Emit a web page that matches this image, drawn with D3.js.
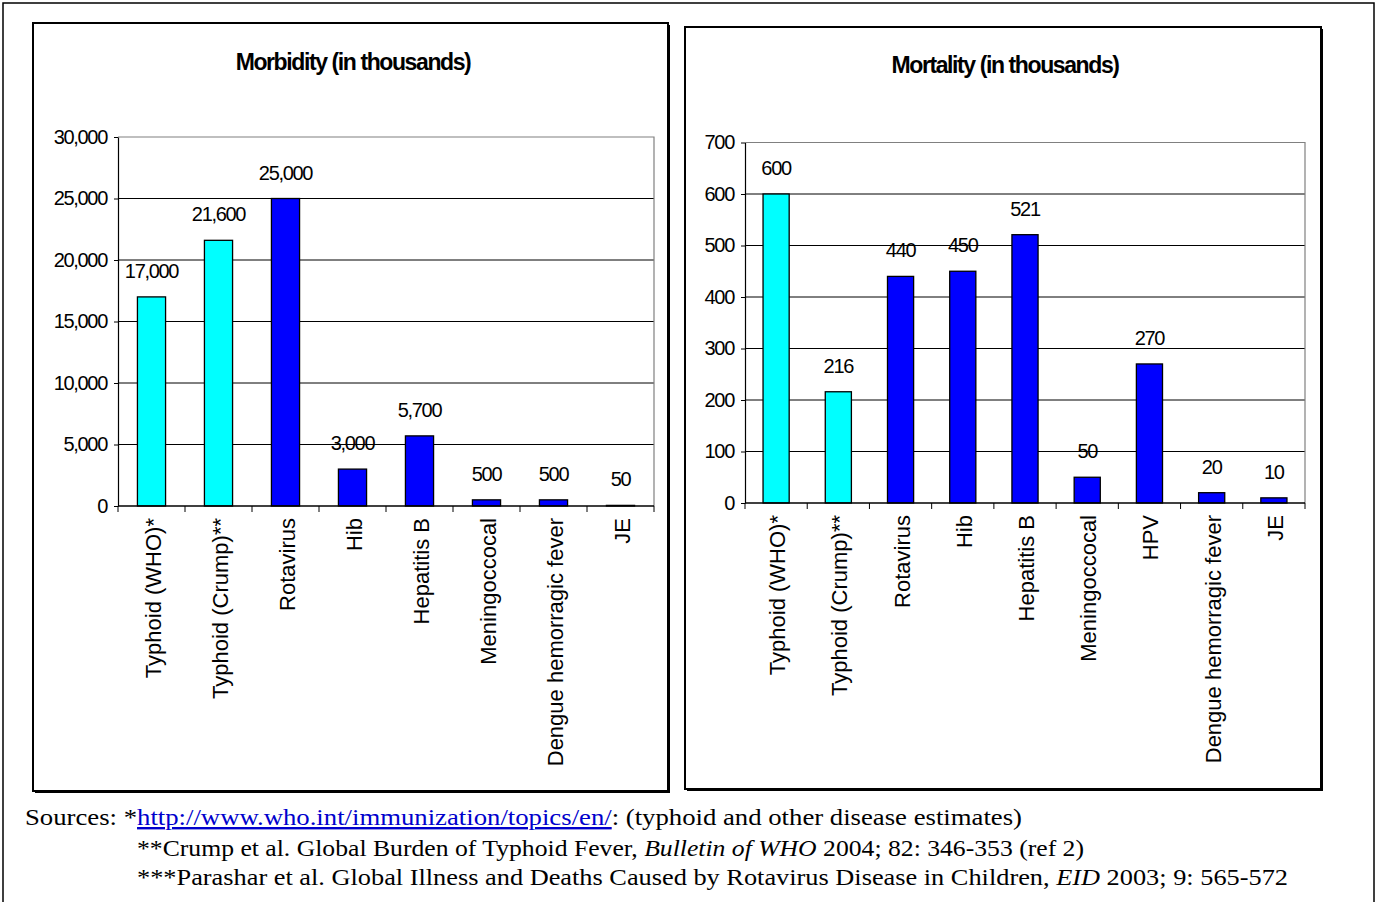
<!DOCTYPE html>
<html>
<head>
<meta charset="utf-8">
<script src="https://cdn.jsdelivr.net/npm/d3@7"></script>
<style>
  html, body { margin: 0; padding: 0; background: #fff; }
  svg { display: block; }
</style>
</head>
<body>
<div id="chart"></div>
<script>
  /* Data */
  var morbCategories = ["Typhoid (WHO)*", "Typhoid (Crump)**", "Rotavirus", "Hib", "Hepatitis B",
    "Meningoccocal", "Dengue hemorragic fever", "JE"];
  var morbValues = [17000, 21600, 25000, 3000, 5700, 500, 500, 50];
  var morbColors = ["#00ffff", "#00ffff", "#0000ff", "#0000ff", "#0000ff", "#0000ff", "#0000ff", "#0000ff"];
  var morbTicks = [0, 5000, 10000, 15000, 20000, 25000, 30000];

  var mortCategories = ["Typhoid (WHO)*", "Typhoid (Crump)**", "Rotavirus", "Hib", "Hepatitis B",
    "Meningoccocal", "HPV", "Dengue hemorragic fever", "JE"];
  var mortValues = [600, 216, 440, 450, 521, 50, 270, 20, 10];
  var mortColors = ["#00ffff", "#00ffff", "#0000ff", "#0000ff", "#0000ff", "#0000ff", "#0000ff", "#0000ff", "#0000ff"];
  var mortTicks = [0, 100, 200, 300, 400, 500, 600, 700];

  var W = 1377, H = 902;
  var svg = d3.select("#chart").append("svg")
    .attr("width", W).attr("height", H)
    .style("font-family", "'Liberation Sans', Arial, sans-serif");

  /* outer frame */
  svg.append("rect").attr("x", 3).attr("y", 3).attr("width", 1371).attr("height", 910)
    .attr("fill", "none").attr("stroke", "#000").attr("stroke-width", 1.5);

  function drawChart(o) {
    /* frame with shadow */
    svg.append("rect").attr("x", o.fx + 2).attr("y", o.fy + 2).attr("width", o.fw).attr("height", o.fh)
      .attr("fill", "#000");
    svg.append("rect").attr("x", o.fx).attr("y", o.fy).attr("width", o.fw).attr("height", o.fh)
      .attr("fill", "#fff").attr("stroke", "#000").attr("stroke-width", 2);

    svg.append("text")
      .attr("x", o.tx).attr("y", o.ty)
      .attr("text-anchor", "middle")
      .attr("font-size", 23).attr("font-weight", "bold")
      .attr("letter-spacing", -1.4)
      .text(o.title);

    var x = d3.scaleBand().domain(o.cats).range([o.x0, o.x1]).paddingInner(0.58).paddingOuter(0.29);
    var xb = d3.scaleBand().domain(o.cats).range([o.x0, o.x1]);
    var y = d3.scaleLinear().domain([0, o.max]).range([o.y0, o.y1]);
    var g = svg.append("g");

    /* gridlines */
    g.selectAll("line.grid").data(o.ticks.slice(1, -1)).enter().append("line")
      .attr("x1", o.x0).attr("x2", o.x1)
      .attr("y1", function (d) { return y(d); }).attr("y2", function (d) { return y(d); })
      .attr("stroke", "#000").attr("stroke-width", 1);
    /* plot border top / right */
    g.append("path")
      .attr("d", "M" + o.x0 + "," + y(o.max) + "H" + o.x1 + "V" + o.y0)
      .attr("fill", "none").attr("stroke", "#808080").attr("stroke-width", 1.2);

    /* bars */
    g.selectAll("rect.bar").data(o.vals).enter().append("rect")
      .attr("x", function (d, i) { return x(o.cats[i]); })
      .attr("width", x.bandwidth())
      .attr("y", function (d) { return y(d); })
      .attr("height", function (d) { return o.y0 - y(d); })
      .attr("fill", function (d, i) { return o.colors[i]; })
      .attr("stroke", "#000").attr("stroke-width", 1.3);

    /* value labels */
    g.selectAll("text.val").data(o.vals).enter().append("text")
      .attr("x", function (d, i) { return x(o.cats[i]) + x.bandwidth() / 2; })
      .attr("y", function (d) { return y(d) - 19; })
      .attr("text-anchor", "middle")
      .attr("font-size", 20).attr("letter-spacing", -1.3)
      .text(function (d) { return d3.format(",")(d); });

    /* y axis */
    var ya = g.append("g").attr("transform", "translate(" + o.x0 + ",0)")
      .call(d3.axisLeft(y).tickValues(o.ticks).tickSize(4).tickSizeOuter(0).tickFormat(d3.format(",")));
    ya.select(".domain").attr("stroke", "#000").attr("stroke-width", 1.2);
    ya.selectAll(".tick line").attr("stroke", "#000");
    ya.selectAll(".tick text").attr("font-size", 20).attr("fill", "#000")
      .attr("font-family", "'Liberation Sans', Arial, sans-serif")
      .attr("letter-spacing", -1.3).attr("x", -11);

    /* x axis */
    g.append("line").attr("x1", o.x0).attr("x2", o.x1).attr("y1", o.y0).attr("y2", o.y0)
      .attr("stroke", "#000").attr("stroke-width", 1.5);
    var bounds = o.cats.map(function (c) { return xb(c); }).concat([o.x1]);
    g.selectAll("line.xt").data(bounds).enter().append("line")
      .attr("x1", function (d) { return d; }).attr("x2", function (d) { return d; })
      .attr("y1", o.y0).attr("y2", o.y0 + 6)
      .attr("stroke", "#000");
    g.selectAll("text.cat").data(o.cats).enter().append("text")
      .attr("transform", function (d) {
        return "translate(" + (xb(d) + xb.bandwidth() / 2 + 9) + "," + (o.y0 + 12) + ") rotate(-90)";
      })
      .attr("text-anchor", "end")
      .attr("font-size", 22)
      .text(function (d) { return d; });
  }

  drawChart({
    fx: 33, fy: 23, fw: 635, fh: 768,
    title: "Morbidity (in thousands)", tx: 353, ty: 70,
    cats: morbCategories, vals: morbValues, colors: morbColors, ticks: morbTicks, max: 30000,
    x0: 118, x1: 654, y0: 506, y1: 137
  });
  drawChart({
    fx: 685, fy: 27, fw: 636, fh: 762,
    title: "Mortality (in thousands)", tx: 1005, ty: 73,
    cats: mortCategories, vals: mortValues, colors: mortColors, ticks: mortTicks, max: 700,
    x0: 745, x1: 1305, y0: 503, y1: 142.5
  });

  /* Sources */
  var src = svg.append("g").attr("font-family", "'Liberation Serif', 'Times New Roman', serif")
    .attr("font-size", 24).attr("fill", "#000");
  var t1 = src.append("text").attr("x", 25).attr("y", 825)
    .attr("textLength", 997).attr("lengthAdjust", "spacingAndGlyphs");
  t1.append("tspan").text("Sources: *");
  t1.append("tspan").attr("fill", "#0000cc").attr("text-decoration", "underline")
    .text("http://www.who.int/immunization/topics/en/");
  t1.append("tspan").text(": (typhoid and other disease estimates)");
  var t2 = src.append("text").attr("x", 137).attr("y", 856)
    .attr("textLength", 947).attr("lengthAdjust", "spacingAndGlyphs");
  t2.append("tspan").text("**Crump et al. Global Burden of Typhoid Fever, ");
  t2.append("tspan").attr("font-style", "italic").text("Bulletin of WHO");
  t2.append("tspan").text(" 2004; 82: 346-353 (ref 2)");
  var t3 = src.append("text").attr("x", 137).attr("y", 885)
    .attr("textLength", 1151).attr("lengthAdjust", "spacingAndGlyphs");
  t3.append("tspan").text("***Parashar et al. Global Illness and Deaths Caused by Rotavirus Disease in Children, ");
  t3.append("tspan").attr("font-style", "italic").text("EID");
  t3.append("tspan").text(" 2003; 9: 565-572");
</script>
</body>
</html>
